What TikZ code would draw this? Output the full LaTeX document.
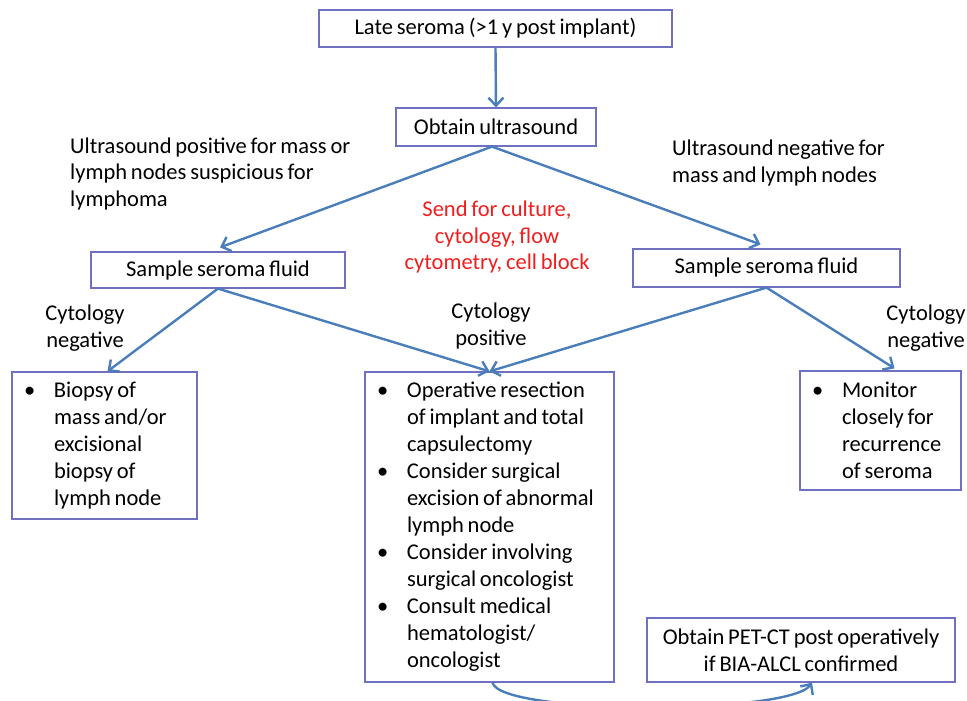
\documentclass[tikz,border=0pt]{standalone}
\usepackage{fontspec}
\setmainfont{Carlito}[WordSpace=0.75]
\usetikzlibrary{arrows.meta}
\definecolor{boxc}{RGB}{112,112,192}
\definecolor{arrc}{RGB}{74,126,187}
\definecolor{redt}{RGB}{240,30,30}
\newcommand{\bul}{\spaceskip 3.8pt\relax\makebox[30pt][l]{\textbullet}}
\newcommand{\ind}{\hspace*{30pt}}
\newcommand{\boxfont}{\fontsize{22.5}{27}\selectfont}
\begin{document}
\begin{tikzpicture}[x=1pt,y=-1pt,
  box/.style={draw=boxc,line width=1.2pt,inner sep=0pt,font=\boxfont},
  lbl/.style={inner sep=0pt,font=\fontsize{22.5}{26.5}\selectfont},
  arr/.style={draw=arrc,line width=2.4pt,-{Straight Barb[length=8pt,width=15pt]}}]
\useasboundingbox (0,0) rectangle (967,701);
\node[box,minimum width=353pt,minimum height=37pt] (late) at (495.5,28.5) {Late seroma (>1 y post implant)};
\node[box,minimum width=200pt,minimum height=38pt] (us) at (496,127) {Obtain ultrasound};
\node[box,minimum width=254pt,minimum height=36pt] (sl) at (218,270) {Sample seroma fluid};
\node[box,minimum width=267pt,minimum height=38pt] (sr) at (766.5,268) {Sample seroma fluid};
\node[box,minimum width=185pt,minimum height=147pt,text width=161pt,align=left] (bl) at (104.5,445.5)
  {\bul Biopsy of\\\ind mass and/or\\\ind excisional\\\ind biopsy of\\\ind lymph node};
\node[box,minimum width=249pt,minimum height=310pt,text width=225pt,align=left] (cb) at (489.5,527)
  {\bul Operative resection\\\ind of implant and total\\\ind capsulectomy\\
   \bul Consider surgical\\\ind excision of abnormal\\\ind lymph node\\
   \bul Consider involving\\\ind surgical oncologist\\
   \bul Consult medical\\\ind hematologist/\\\ind oncologist};
\node[box,minimum width=161pt,minimum height=119pt,text width=137pt,align=left] (br) at (880.5,430.5)
  {\bul Monitor\\\ind closely for\\\ind recurrence\\\ind of seroma};
\node[box,minimum width=308pt,minimum height=64pt,align=center] (pet) at (801,650)
  {Obtain PET-CT post operatively\\if BIA-ALCL confirmed};
\node[lbl,anchor=west,align=left] (lpos) at (70,174) {Ultrasound positive for mass or\\lymph nodes suspicious for\\lymphoma};
\node[lbl,anchor=west,align=left] (lneg) at (672,163) {Ultrasound negative for\\mass and lymph nodes};
\node[lbl,text=redt,align=center] (send) at (497,237) {Send for culture,\\cytology, flow\\cytometry, cell block};
\node[lbl,align=center] (cn1) at (85,328) {Cytology\\negative};
\node[lbl,align=center] (cp) at (491,326) {Cytology\\positive};
\node[lbl,align=center] (cn2) at (926,328) {Cytology\\negative};
\draw[arr] (late.south) -- (us.north);
\draw[arr] ([xshift=-4pt]us.south) -- ([xshift=2pt,yshift=4pt]sl.north);
\draw[arr] ([xshift=-4pt]us.south) -- ([xshift=-6pt,yshift=4pt]sr.north);
\draw[arr] (sl.south) -- ([xshift=3pt]bl.north);
\draw[arr] (sl.south) -- (cb.north);
\draw[arr] (sr.south) -- (cb.north);
\draw[arr] (sr.south) -- ([xshift=14pt,yshift=2pt]br.north);
\draw[arr] ([xshift=3pt]cb.south) .. controls (500,715) and (790,715) .. ([xshift=11pt]pet.south);
\end{tikzpicture}
\end{document}
